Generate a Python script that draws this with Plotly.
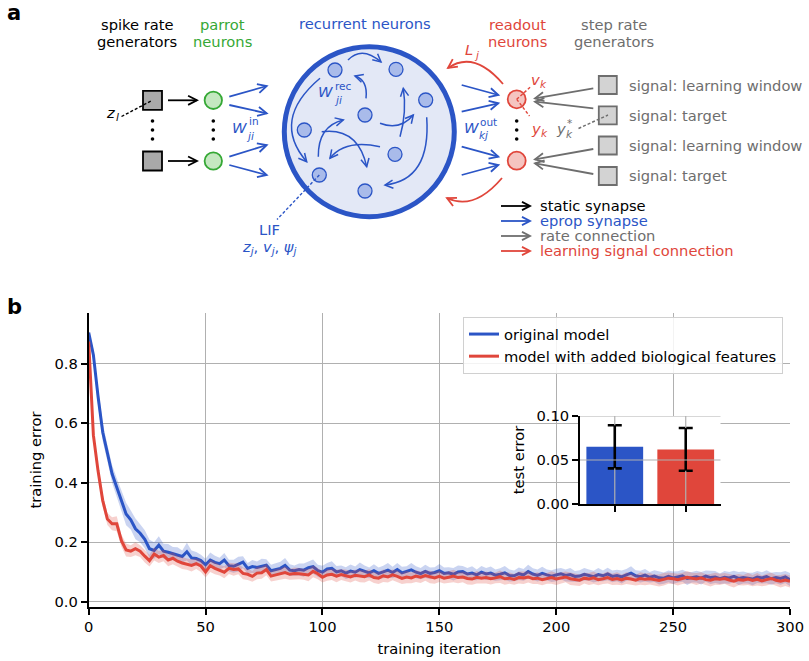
import math
import plotly.graph_objects as go

W, H = 809, 661
FONT = "DejaVu Sans"
FS = 14.7
BLUE = "#2b55c6"
RED = "#e0463b"
GREEN = "#35a835"
GRAY = "#6e6e6e"

# ---------------- data (panel b) ----------------
iterations = list(range(0, 301, 2))

orig_mean = [
    0.905, 0.83, 0.69, 0.57, 0.50, 0.43, 0.385, 0.34, 0.295, 0.275,
    0.245, 0.23, 0.21, 0.178, 0.172, 0.19, 0.17, 0.166, 0.162, 0.158,
    0.152, 0.168, 0.147, 0.145, 0.138, 0.124, 0.14, 0.132, 0.128, 0.14,
    0.121, 0.119, 0.126, 0.133, 0.112, 0.118, 0.115, 0.12, 0.123, 0.104,
    0.108, 0.112, 0.122, 0.106, 0.104, 0.108, 0.106, 0.114, 0.118, 0.104,
    0.099, 0.11, 0.112, 0.1, 0.104, 0.096, 0.103, 0.099, 0.108, 0.102,
    0.097, 0.104, 0.095, 0.1, 0.106, 0.098, 0.108, 0.097, 0.101, 0.107,
    0.099, 0.094, 0.102, 0.095, 0.098, 0.104, 0.095, 0.097, 0.092, 0.1,
    0.101, 0.093, 0.096, 0.09, 0.099, 0.093, 0.096, 0.089, 0.092, 0.097,
    0.088, 0.087, 0.094, 0.09, 0.101, 0.093, 0.088, 0.095, 0.09, 0.086,
    0.09, 0.094, 0.088, 0.091, 0.085, 0.086, 0.092, 0.089, 0.084, 0.091,
    0.087, 0.093, 0.085, 0.088, 0.083, 0.09, 0.096, 0.087, 0.084, 0.089,
    0.082, 0.086, 0.08, 0.079, 0.085, 0.08, 0.083, 0.087, 0.078, 0.082,
    0.084, 0.079, 0.086, 0.081, 0.083, 0.077, 0.082, 0.08, 0.085, 0.078,
    0.081, 0.079, 0.076, 0.083, 0.08, 0.084, 0.077, 0.081, 0.078, 0.083,
    0.074,
]
orig_sd = [
    0.008, 0.02, 0.03, 0.03, 0.028, 0.03, 0.03, 0.035, 0.038, 0.032,
    0.035, 0.03, 0.03, 0.03, 0.028, 0.03, 0.025, 0.028, 0.022, 0.025,
    0.02, 0.03, 0.025, 0.022, 0.02, 0.02, 0.025, 0.022, 0.02, 0.024,
    0.02, 0.022, 0.025, 0.02, 0.018, 0.022, 0.02, 0.024, 0.02, 0.02,
    0.02, 0.022, 0.025, 0.02, 0.018, 0.02, 0.022, 0.02, 0.024, 0.02,
    0.022, 0.02, 0.024, 0.02, 0.018, 0.02, 0.022, 0.019, 0.024, 0.02,
    0.018, 0.022, 0.02, 0.021, 0.024, 0.019, 0.022, 0.02, 0.018, 0.023,
    0.02, 0.019, 0.022, 0.02, 0.018, 0.023, 0.02, 0.019, 0.021, 0.022,
    0.019, 0.02, 0.023, 0.018, 0.021, 0.02, 0.022, 0.019, 0.02, 0.023,
    0.02, 0.018, 0.021, 0.02, 0.023, 0.019, 0.02, 0.022, 0.018, 0.02,
    0.021, 0.019, 0.02, 0.022, 0.018, 0.02, 0.021, 0.019, 0.02, 0.022,
    0.018, 0.021, 0.02, 0.019, 0.022, 0.02, 0.023, 0.019, 0.02, 0.021,
    0.018, 0.02, 0.022, 0.019, 0.02, 0.021, 0.019, 0.02, 0.022, 0.018,
    0.02, 0.021, 0.019, 0.022, 0.02, 0.018, 0.021, 0.02, 0.019, 0.022,
    0.02, 0.018, 0.021, 0.02, 0.019, 0.022, 0.02, 0.019, 0.021, 0.02,
    0.022,
]
bio_mean = [
    0.875, 0.56, 0.44, 0.34, 0.278, 0.262, 0.262, 0.205, 0.174, 0.17,
    0.178, 0.17, 0.153, 0.138, 0.16, 0.15, 0.155, 0.14, 0.146, 0.136,
    0.13, 0.126, 0.122, 0.128, 0.12, 0.1, 0.121, 0.112, 0.106, 0.099,
    0.112, 0.108, 0.11, 0.095, 0.092, 0.085, 0.096, 0.097, 0.108, 0.086,
    0.09, 0.093, 0.098, 0.092, 0.095, 0.094, 0.092, 0.09, 0.102, 0.094,
    0.082, 0.09, 0.092, 0.086, 0.091, 0.088, 0.083, 0.089, 0.086, 0.084,
    0.09, 0.081, 0.079, 0.087, 0.083, 0.09, 0.085, 0.078, 0.083, 0.08,
    0.086, 0.082, 0.088, 0.083, 0.08, 0.085, 0.079, 0.082, 0.086, 0.081,
    0.083, 0.078, 0.076, 0.082, 0.079, 0.081, 0.077, 0.08, 0.084, 0.077,
    0.079, 0.075, 0.081, 0.08, 0.083, 0.077, 0.079, 0.074, 0.078, 0.081,
    0.076, 0.079, 0.083, 0.077, 0.074, 0.072, 0.079, 0.076, 0.08, 0.074,
    0.077, 0.081, 0.075, 0.078, 0.073, 0.079, 0.076, 0.072, 0.078, 0.075,
    0.077, 0.073, 0.071, 0.075, 0.079, 0.077, 0.074, 0.078, 0.082, 0.079,
    0.076, 0.08, 0.074, 0.072, 0.077, 0.075, 0.078, 0.073, 0.069, 0.074,
    0.072, 0.076, 0.071, 0.075, 0.07, 0.074, 0.078, 0.072, 0.069, 0.073,
    0.068,
]
bio_sd = [
    0.008, 0.02, 0.02, 0.022, 0.02, 0.022, 0.025, 0.02, 0.022, 0.02,
    0.022, 0.02, 0.021, 0.02, 0.022, 0.02, 0.019, 0.021, 0.02, 0.018,
    0.02, 0.019, 0.021, 0.018, 0.02, 0.019, 0.021, 0.02, 0.018, 0.02,
    0.019, 0.021, 0.018, 0.02, 0.019, 0.018, 0.021, 0.02, 0.019, 0.018,
    0.02, 0.019, 0.021, 0.018, 0.02, 0.019, 0.018, 0.021, 0.02, 0.019,
    0.018, 0.02, 0.019, 0.021, 0.018, 0.02, 0.019, 0.018, 0.021, 0.02,
    0.019, 0.018, 0.02, 0.021, 0.019, 0.018, 0.02, 0.019, 0.021, 0.018,
    0.02, 0.019, 0.018, 0.021, 0.02, 0.019, 0.018, 0.02, 0.021, 0.019,
    0.018, 0.02, 0.019, 0.021, 0.018, 0.02, 0.019, 0.018, 0.021, 0.02,
    0.019, 0.018, 0.02, 0.021, 0.019, 0.018, 0.02, 0.019, 0.018, 0.021,
    0.02, 0.019, 0.018, 0.021, 0.02, 0.019, 0.018, 0.02, 0.021, 0.019,
    0.018, 0.02, 0.019, 0.021, 0.018, 0.02, 0.019, 0.018, 0.021, 0.02,
    0.019, 0.018, 0.02, 0.021, 0.019, 0.018, 0.02, 0.019, 0.021, 0.018,
    0.02, 0.019, 0.018, 0.021, 0.02, 0.019, 0.018, 0.02, 0.021, 0.019,
    0.018, 0.02, 0.019, 0.021, 0.018, 0.02, 0.019, 0.018, 0.021, 0.02,
    0.02,
]
series_names = ["original model", "model with added biological features"]
test_error = [0.065, 0.062]
test_error_sd = [0.0245, 0.0243]
x_ticks = [0, 50, 100, 150, 200, 250, 300]
y_ticks = [0.0, 0.2, 0.4, 0.6, 0.8]
inset_ticks = [0.0, 0.05, 0.10]

# ---------------- figure ----------------
fig = go.Figure()


def band(mean, sd, color):
    up = [m + s for m, s in zip(mean, sd)]
    lo = [m - s for m, s in zip(mean, sd)]
    return go.Scatter(x=iterations + iterations[::-1], y=up + lo[::-1],
                      fill="toself", fillcolor=color, line=dict(width=0),
                      mode="lines", hoverinfo="skip", showlegend=False,
                      xaxis="x", yaxis="y")


fig.add_trace(band(orig_mean, orig_sd, "rgba(43,85,198,0.25)"))
fig.add_trace(go.Scatter(x=iterations, y=orig_mean, mode="lines",
                         name=series_names[0], line=dict(color=BLUE, width=3)))
fig.add_trace(band(bio_mean, bio_sd, "rgba(224,70,59,0.25)"))
fig.add_trace(go.Scatter(x=iterations, y=bio_mean, mode="lines",
                         name=series_names[1], line=dict(color=RED, width=3)))

bar_pos = list(range(len(series_names)))
fig.add_trace(go.Bar(x=bar_pos, y=test_error, width=0.8,
                     marker=dict(color=[BLUE, RED], line=dict(width=0)),
                     error_y=dict(type="data", array=test_error_sd, color="black",
                                  thickness=2.6, width=7),
                     hovertext=series_names, showlegend=False,
                     xaxis="x2", yaxis="y2"))


def X(x):
    return x / W


def Y(y):
    return 1 - y / H


shapes = []
annotations = []

# inset grid lines drawn above the bars (as in the reference)
for i, (m, s) in enumerate(zip(test_error, test_error_sd)):
    for y0, y1 in ((0, m - s), (m + s, inset_ticks[-1])):
        shapes.append(dict(type="line", xref="x2", yref="y2", x0=bar_pos[i], x1=bar_pos[i],
                           y0=y0, y1=y1, line=dict(color="#b0b0b0", width=1.2), layer="above"))
for t in inset_ticks[1:]:
    shapes.append(dict(type="line", xref="x2 domain", yref="y2", x0=0, x1=1, y0=t, y1=t,
                       line=dict(color="#b0b0b0", width=1.2), layer="above"))

# ---------------- panel a (diagram) ----------------


def P(x, y):
    return f"{X(x):.5f},{Y(y):.5f}"


def add_path(d, color, width, dash="solid"):
    shapes.append(dict(type="path", xref="paper", yref="paper", path=d,
                       line=dict(color=color, width=width, dash=dash),
                       fillcolor="rgba(0,0,0,0)", layer="above"))


def head(tx, ty, dx, dy, color, width, size=10, ang=27):
    L = math.hypot(dx, dy)
    ux, uy = dx / L, dy / L
    pts = []
    for s in (1, -1):
        a = math.radians(s * ang)
        rx = -ux * math.cos(a) + uy * math.sin(a)
        ry = -ux * math.sin(a) - uy * math.cos(a)
        pts.append((tx + size * rx, ty + size * ry))
    add_path(f"M {P(*pts[0])} L {P(tx, ty)} L {P(*pts[1])}", color, width)


def arrow(x0, y0, x1, y1, color, width=1.8, ctrl=None, size=10):
    if ctrl:
        cx, cy = ctrl
        add_path(f"M {P(x0, y0)} Q {P(cx, cy)} {P(x1, y1)}", color, width)
        head(x1, y1, x1 - cx, y1 - cy, color, width, size)
    else:
        add_path(f"M {P(x0, y0)} L {P(x1, y1)}", color, width)
        head(x1, y1, x1 - x0, y1 - y0, color, width, size)


def circle(cx, cy, r, fill, edge, width):
    shapes.append(dict(type="circle", xref="paper", yref="paper",
                       x0=X(cx - r), x1=X(cx + r), y0=Y(cy + r), y1=Y(cy - r),
                       fillcolor=fill, line=dict(color=edge, width=width), layer="above"))


def rect(cx, cy, s, fill, edge, width):
    shapes.append(dict(type="rect", xref="paper", yref="paper",
                       x0=X(cx - s / 2), x1=X(cx + s / 2), y0=Y(cy + s / 2), y1=Y(cy - s / 2),
                       fillcolor=fill, line=dict(color=edge, width=width), layer="above"))


def dashed(x0, y0, x1, y1, color, width=1.4):
    add_path(f"M {P(x0, y0)} L {P(x1, y1)}", color, width, dash="3px,2px")


def txt(x, y, s, color="black", size=FS, anchor="center", angle=0):
    annotations.append(dict(x=X(x), y=Y(y), xref="paper", yref="paper", text=s,
                            showarrow=False, xanchor=anchor, yanchor="middle",
                            textangle=angle, font=dict(family=FONT, size=size, color=color)))


def dots(x):
    for y in (121, 130, 139):
        circle(x, y, 1.8, "black", "black", 0)


# big recurrent population circle
circle(369.3, 131.7, 85, "#e3e8f6", BLUE, 5)

# input generators and parrot neurons
for y in (100.3, 161):
    rect(152.5, y, 19, "#a9a9a9", "black", 1.8)
    arrow(168, y, 197, y, "black", 1.8)
    circle(213.3, y, 8.7, "#c4e8c0", GREEN, 1.8)
dots(152.5)
dots(213.3)
dashed(121.5, 116.5, 152, 100.5, "black")

# input e-prop arrows
for (a, b, c, d) in ((229.3, 96.7, 266.7, 86), (229.3, 105, 266.7, 113.3),
                     (229.3, 156.7, 266.7, 145), (229.3, 165, 266.7, 175)):
    arrow(a, b, c, d, BLUE, 1.8)

# recurrent connections
rec_arrows = [
    ((348, 60), (362, 45.5), (381, 62)),
    ((320, 78.3), (270.7, 120), (306.7, 161.7)),
    ((366, 98.3), (368, 80), (355, 76)),
    ((400, 136.7), (407, 112), (403.3, 88.3)),
    ((380, 123.3), (400, 131), (413.3, 115)),
    ((426.7, 117.3), (431, 180), (385, 185)),
    ((318.3, 156.7), (318, 126), (343.3, 120)),
    ((321.7, 131.7), (358, 127), (366.7, 166.7)),
    ((380, 146.7), (345, 139), (330, 158.3)),
]
for s, c, e in rec_arrows:
    arrow(s[0], s[1], e[0], e[1], BLUE, 1.5, ctrl=c, size=9)

# recurrent neurons
for (cx, cy) in ((335, 70), (396, 69.3), (425.7, 100), (365, 115), (304.3, 130),
                 (395, 154.3), (319.3, 175), (365, 191)):
    circle(cx, cy, 7, "#a9bbea", BLUE, 1.3)

dashed(319.3, 175, 277, 219.5, BLUE)

# output e-prop arrows
for (a, b, c, d) in ((461.7, 85, 498.3, 95), (461.7, 111.7, 498.3, 103.3),
                     (461.7, 146.7, 498.3, 156.7), (461.7, 175, 498.3, 165)):
    arrow(a, b, c, d, BLUE, 1.8)

# learning signal arcs
arrow(503, 84, 448, 68, RED, 1.8, ctrl=(474, 50))
arrow(502, 178, 447, 198, RED, 1.8, ctrl=(474, 211))

# readout neurons
for y in (99.3, 160.7):
    circle(516.7, y, 9, "#f5c4c0", RED, 1.8)
dots(516.7)
dashed(516.7, 99.3, 531.5, 86, RED)
dashed(516.7, 99.3, 529.5, 116, RED)

# step rate generators and rate connections
for y in (85, 115.3, 145.5, 176):
    rect(607.8, y, 18, "#d3d3d3", GRAY, 1.8)
for (a, b, c, d) in ((593.3, 88.3, 535, 98.3), (593.3, 108.3, 535, 101.7),
                     (593.3, 149, 535, 159.3), (593.3, 174, 535, 163.3)):
    arrow(a, b, c, d, GRAY, 1.8)
dashed(578.5, 128.5, 608, 115, GRAY)

# connection legend
legend_rows = [("static synapse", "black"), ("eprop synapse", BLUE),
               ("rate connection", GRAY), ("learning signal connection", RED)]
for k, (label, col) in enumerate(legend_rows):
    y = 206 + 15 * k
    arrow(501, y, 530, y, col, 1.8, size=9)
    txt(538, y, label, col, anchor="left")

# diagram texts
txt(137, 24, "spike rate")
txt(137, 41, "generators")
txt(222.5, 24, "parrot", GREEN)
txt(222.5, 41, "neurons", GREEN)
txt(364.7, 23.5, "recurrent neurons", BLUE)
txt(517, 24, "readout", RED)
txt(517, 41, "neurons", RED)
txt(614, 24, "step rate", GRAY)
txt(614, 41, "generators", GRAY)
for y, lab in ((85, "signal: learning window"), (115.3, "signal: target"),
               (145.5, "signal: learning window"), (176, "signal: target")):
    txt(626.5, y, lab, GRAY, anchor="left")
txt(269, 229, "LIF", BLUE)
txt(269, 247, "<i>z</i><sub><i>j</i></sub>, <i>v</i><sub><i>j</i></sub>, <i>ψ</i><sub><i>j</i></sub>", BLUE)

SS = 10.5
txt(110.5, 112.5, "<i>z</i>")
txt(117, 117, "<i>l</i>", size=SS)
txt(239, 127.5, "<i>W</i>", BLUE)
txt(253.5, 121, "in", BLUE, size=SS)
txt(250, 136, "<i>ji</i>", BLUE, size=SS)
txt(325.7, 91.7, "<i>W</i>", BLUE)
txt(343, 86.5, "rec", BLUE, size=SS)
txt(338, 100.5, "<i>ji</i>", BLUE, size=SS)
txt(471, 127.5, "<i>W</i>", BLUE)
txt(488.5, 121.5, "out", BLUE, size=SS)
txt(483.5, 135, "<i>kj</i>", BLUE, size=SS)
txt(469, 49.5, "<i>L</i>", RED)
txt(476.5, 55, "<i>j</i>", RED, size=SS)
txt(535.5, 79.5, "<i>v</i>", RED)
txt(543.5, 84, "<i>k</i>", RED, size=SS)
txt(535.5, 128.5, "<i>y</i>", RED)
txt(544, 133, "<i>k</i>", RED, size=SS)
txt(561, 128.5, "<i>y</i>", GRAY)
txt(569.5, 122.5, "*", GRAY, size=SS)
txt(569, 134, "<i>k</i>", GRAY, size=SS)

# panel labels
txt(14, 13.5, "<b>a</b>", size=21)
txt(14.5, 306.5, "<b>b</b>", size=21)

axis_common = dict(showline=True, linecolor="black", linewidth=1.8, ticks="outside",
                   ticklen=6, tickwidth=1.6, tickcolor="black", zeroline=False,
                   automargin=False, tickfont=dict(family=FONT, size=FS, color="black"))

fig.update_layout(
    width=W, height=H,
    margin=dict(l=0, r=0, t=0, b=0),
    paper_bgcolor="white", plot_bgcolor="white",
    font=dict(family=FONT, size=FS, color="black"),
    xaxis=dict(domain=[88.7 / W, 790 / W], range=[0, 300], tickvals=x_ticks,
               showgrid=True, gridcolor="#b0b0b0", gridwidth=1.2, anchor="y",
               title=dict(text="training iteration", standoff=9,
                          font=dict(family=FONT, size=FS)),
               **axis_common),
    yaxis=dict(domain=[1 - 606.7 / H, 1 - 313.3 / H], range=[-0.017, 0.970],
               tickvals=y_ticks, tickformat=".1f", anchor="x",
               showgrid=True, gridcolor="#b0b0b0", gridwidth=1.2,
               title=dict(text="training error", standoff=9,
                          font=dict(family=FONT, size=FS)),
               **axis_common),
    xaxis2=dict(domain=[580 / W, 720.5 / W], range=[-0.49, 1.49], tickvals=bar_pos,
                showticklabels=False, showgrid=False, anchor="y2", **axis_common),
    yaxis2=dict(domain=[1 - 504 / H, 1 - 416 / H], range=[0, 0.1], tickvals=inset_ticks,
                tickformat=".2f", showgrid=False, anchor="x2",
                title=dict(text="test error", standoff=8,
                           font=dict(family=FONT, size=FS)),
                **axis_common),
    legend=dict(x=783 / W, xanchor="right", y=1 - 317 / H, yanchor="top",
                bgcolor="rgba(255,255,255,0.85)", bordercolor="#d0d0d0", borderwidth=1,
                font=dict(family=FONT, size=FS), itemwidth=30, tracegroupgap=0),
    shapes=shapes,
    annotations=annotations,
)

fig.write_html("out.html", config={"displayModeBar": False},
               post_script="document.body.style.margin='0px';document.body.style.padding='0px';")
